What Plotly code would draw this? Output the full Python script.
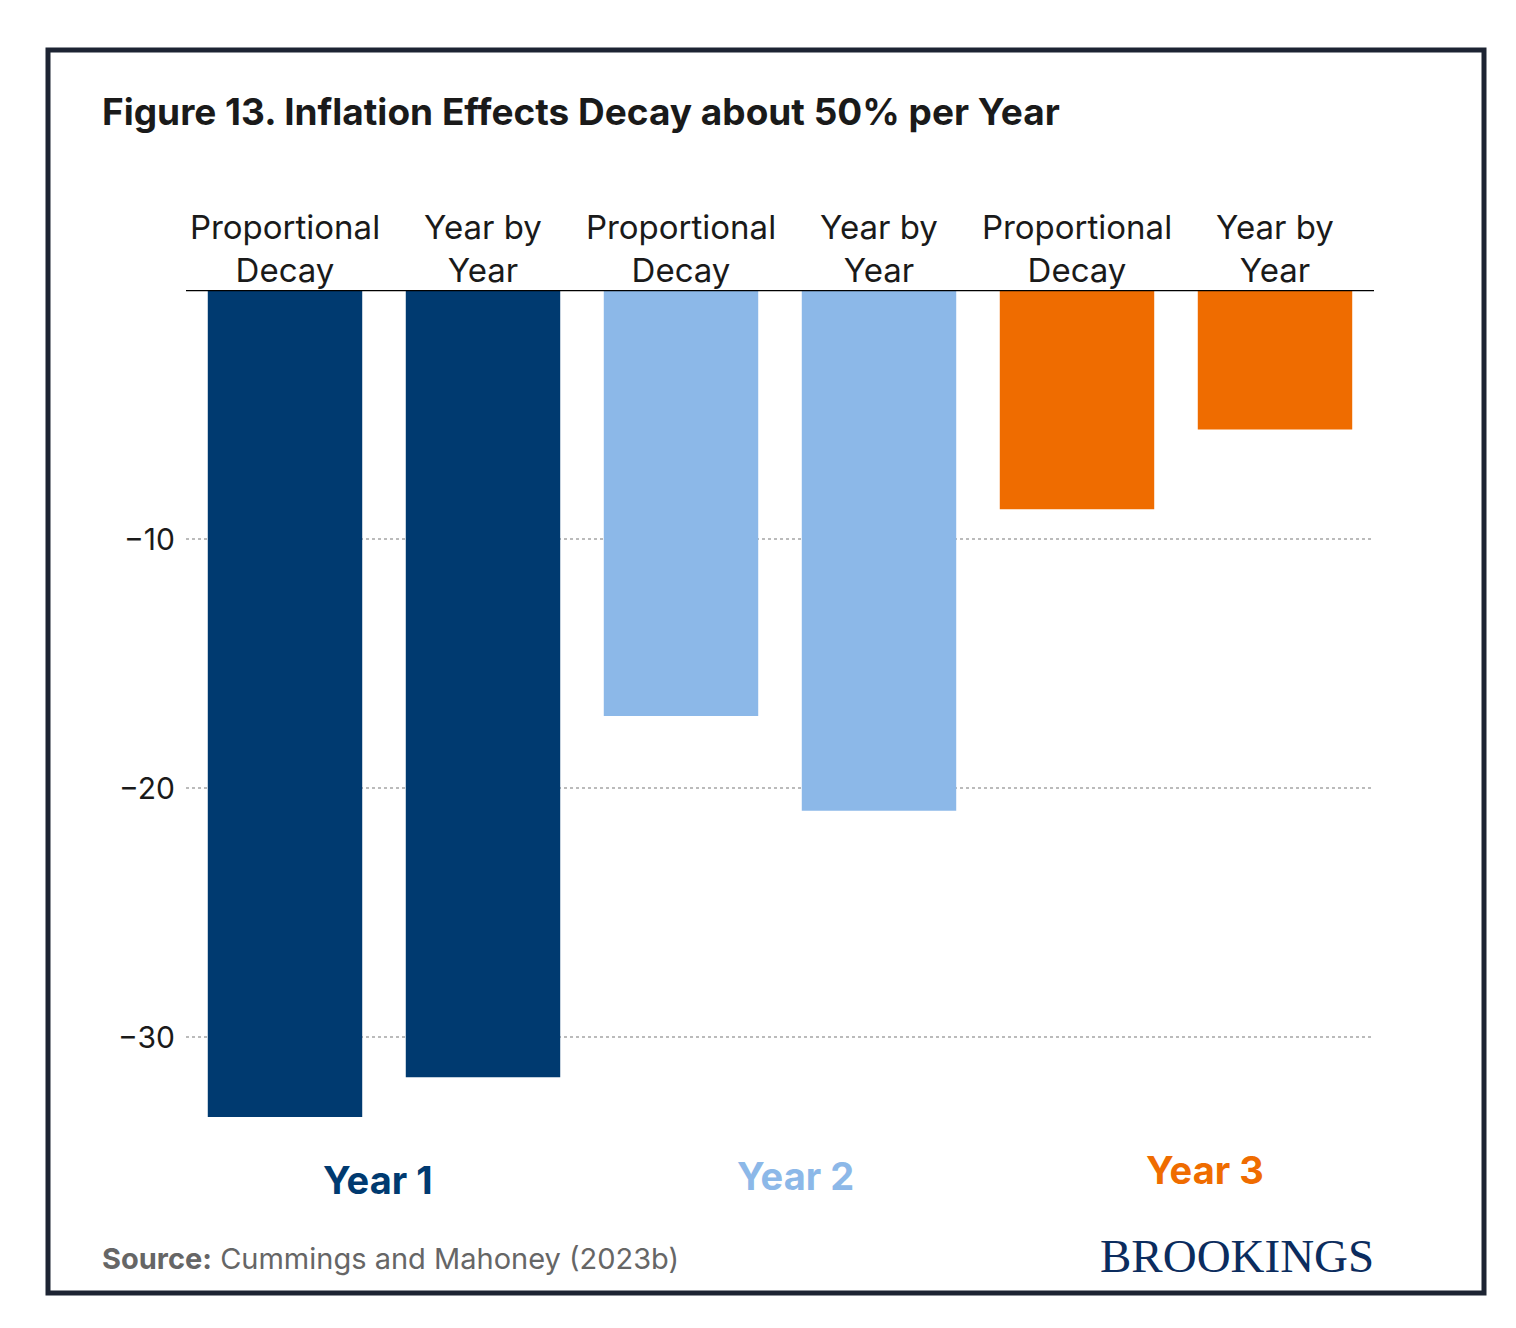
import plotly.graph_objects as go

categories = ["Proportional<br>Decay", "Year by<br>Year"] * 3
ids = ["y1pd", "y1yy", "y2pd", "y2yy", "y3pd", "y3yy"]
values = [-33.2, -31.6, -17.1, -20.9, -8.8, -5.6]
colors = ["#003a70", "#003a70", "#8cb8e8", "#8cb8e8", "#ef6c00", "#ef6c00"]
year_labels = ["Year 1", "Year 2", "Year 3"]
year_colors = ["#003a70", "#8cb8e8", "#ef6c00"]
yticks = [-10, -20, -30]

W, H = 1516, 1328
L, R, T, B = 178, 1366, 282, 1119

def px(x):
    return (x - L) / (R - L)

def py(y):
    return (B - y) / (B - T)

fig = go.Figure(go.Bar(x=ids, y=values, marker_color=colors, marker_line_width=0))

fig.update_layout(
    width=W, height=H, margin=dict(l=L, r=W - R, t=T, b=H - B),
    paper_bgcolor="white", plot_bgcolor="white", showlegend=False,
    bargap=0.22, font=dict(family="Inter", color="#1a1a1a"),
    xaxis=dict(side="top", tickmode="array", tickvals=ids, ticktext=categories,
               tickfont=dict(size=33, color="#1a1a1a"), showgrid=False, ticks="", ticklen=0),
    yaxis=dict(range=[-33.6, 0], tickvals=yticks, ticktext=["−10", "−20", "−30"],
               tickfont=dict(size=30, color="#1a1a1a"), showgrid=True, gridcolor="#bbbbbb",
               griddash="dot", gridwidth=2, zeroline=False, ticks="", ticklabelstandoff=10),
)

shapes = [
    dict(type="line", xref="paper", yref="y", x0=0, x1=1, y0=0, y1=0, line=dict(color="black", width=2.5)),
    dict(type="rect", xref="paper", yref="paper", x0=px(40), x1=px(1476), y0=py(42), y1=py(1285),
         line=dict(color="#1d2433", width=5), layer="below"),
]
fig.update_layout(shapes=shapes)

ann = [
    dict(text="<b>Figure 13. Inflation Effects Decay about 50% per Year</b>", x=px(92), y=py(103),
         xanchor="left", yanchor="middle", font=dict(size=37, color="#1a1a1a")),
    dict(text="<b>Source:</b> Cummings and Mahoney (2023b)", x=px(92), y=py(1250),
         xanchor="left", yanchor="middle", font=dict(size=29, color="#666666")),
    dict(text="BROOKINGS", x=px(1368), y=py(1248), xanchor="right", yanchor="middle",
         font=dict(size=47, color="#0b2c5e", family="Liberation Serif")),
]
for lab, col, (x, y) in zip(year_labels, year_colors, [(370, 1172), (787, 1168), (1197, 1162)]):
    ann.append(dict(text=f"<b>{lab}</b>", x=px(x), y=py(y), xanchor="center", yanchor="middle",
                    font=dict(size=38, color=col)))
for a in ann:
    a.update(xref="paper", yref="paper", showarrow=False)
fig.update_layout(annotations=ann)

fig.write_html("out.html")
